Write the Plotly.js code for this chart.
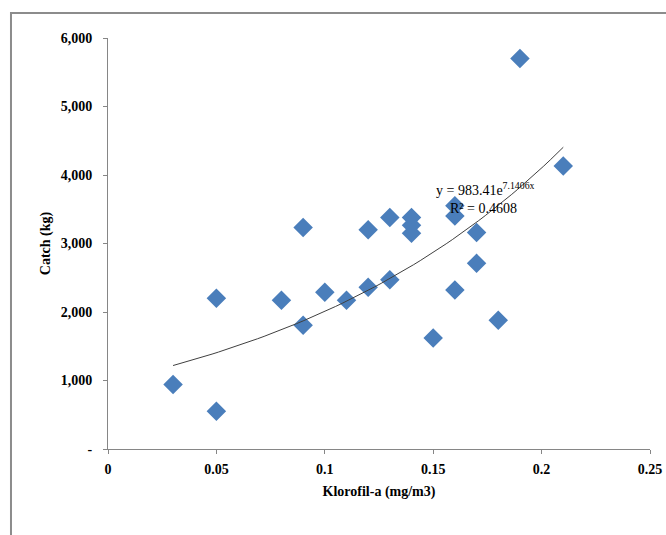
<!DOCTYPE html>
<html>
<head>
<meta charset="utf-8">
<script src="https://cdn.plot.ly/plotly-3.0.1.min.js"></script>
<style>
html,body{margin:0;padding:0;background:#fff;}
#chart{width:666px;height:535px;}
</style>
</head>
<body>
<div id="chart"></div>
<script>
// Data
const klorofil = [0.03, 0.05, 0.05, 0.08, 0.09, 0.09, 0.10, 0.11, 0.12, 0.12, 0.13, 0.13, 0.14, 0.14, 0.14, 0.15, 0.16, 0.16, 0.16, 0.17, 0.17, 0.18, 0.19, 0.21];
const catchKg  = [940, 550, 2200, 2170, 3235, 1808, 2290, 2170, 3200, 2360, 3380, 2470, 3380, 3265, 3150, 1620, 3550, 3400, 2320, 3160, 2710, 1880, 5700, 4130];

// Exponential trend line (as reported on the chart)
const trendA = 983.41;
const trendB = 7.1406;
const trendXMin = Math.min(...klorofil);
const trendXMax = Math.max(...klorofil);
const trendX = [];
const trendY = [];
for (let i = 0; i <= 60; i++) {
  const x = trendXMin + (trendXMax - trendXMin) * i / 60;
  trendX.push(x);
  trendY.push(trendA * Math.exp(trendB * x));
}

const xTicks = [0, 0.05, 0.1, 0.15, 0.2, 0.25];
const xTickText = ['0', '0.05', '0.1', '0.15', '0.2', '0.25'];
const yTicks = [0, 1000, 2000, 3000, 4000, 5000, 6000];
const yTickText = ['-', '1,000', '2,000', '3,000', '4,000', '5,000', '6,000'];

const eqText = 'y = 983.41e<sup>7.1406x</sup>';
const r2Text = 'R² = 0.4608';

const serif = 'Liberation Serif, Times New Roman, serif';

const traces = [
  {
    x: klorofil, y: catchKg, type: 'scatter', mode: 'markers',
    marker: {symbol: 'diamond', size: 15, color: '#4A7EBB', line: {width: 0}},
    hoverinfo: 'x+y', showlegend: false
  },
  {
    x: trendX, y: trendY, type: 'scatter', mode: 'lines',
    line: {color: '#404040', width: 1},
    hoverinfo: 'skip', showlegend: false
  }
];

const layout = {
  width: 666, height: 535,
  margin: {l: 108, r: 16, t: 38, b: 86, pad: 0},
  paper_bgcolor: '#ffffff',
  plot_bgcolor: '#ffffff',
  font: {family: serif, color: '#000', size: 14},
  showlegend: false,
  xaxis: {
    range: [0, 0.25],
    tickvals: xTicks, ticktext: xTickText,
    showgrid: false, zeroline: false,
    showline: true, linecolor: '#868686', linewidth: 1,
    ticks: 'outside', ticklen: 4, tickcolor: '#868686',
    tickfont: {family: serif, size: 14, color: '#000', weight: 'bold'},
    ticklabelstandoff: 3,
    title: {text: '<b>Klorofil-a (mg/m3)</b>', font: {family: serif, size: 14, color: '#000'}, standoff: 10}
  },
  yaxis: {
    range: [0, 6000],
    tickvals: yTicks, ticktext: yTickText,
    showgrid: false, zeroline: false,
    showline: true, linecolor: '#868686', linewidth: 1,
    ticks: 'outside', ticklen: 4, tickcolor: '#868686',
    tickfont: {family: serif, size: 14, color: '#000', weight: 'bold'},
    ticklabelstandoff: 8,
    title: {text: '<b>Catch (kg)</b>', font: {family: serif, size: 14, color: '#000'}, standoff: 6}
  },
  annotations: [
    {x: 0.1505, y: 3800, xref: 'x', yref: 'y', xanchor: 'left', yanchor: 'middle',
     text: eqText, showarrow: false, font: {family: serif, size: 14, color: '#000'}},
    {x: 0.157, y: 3510, xref: 'x', yref: 'y', xanchor: 'left', yanchor: 'middle',
     text: r2Text, showarrow: false, font: {family: serif, size: 14, color: '#000'}}
  ],
  shapes: [
    {type: 'rect', xref: 'paper', yref: 'paper', x0: -0.179, x1: 1.3, y0: -0.5, y1: 1.061,
     line: {color: '#8c8c8c', width: 2}, fillcolor: 'rgba(0,0,0,0)', layer: 'below'}
  ]
};

Plotly.newPlot('chart', traces, layout, {displayModeBar: false, staticPlot: true});
</script>
</body>
</html>
